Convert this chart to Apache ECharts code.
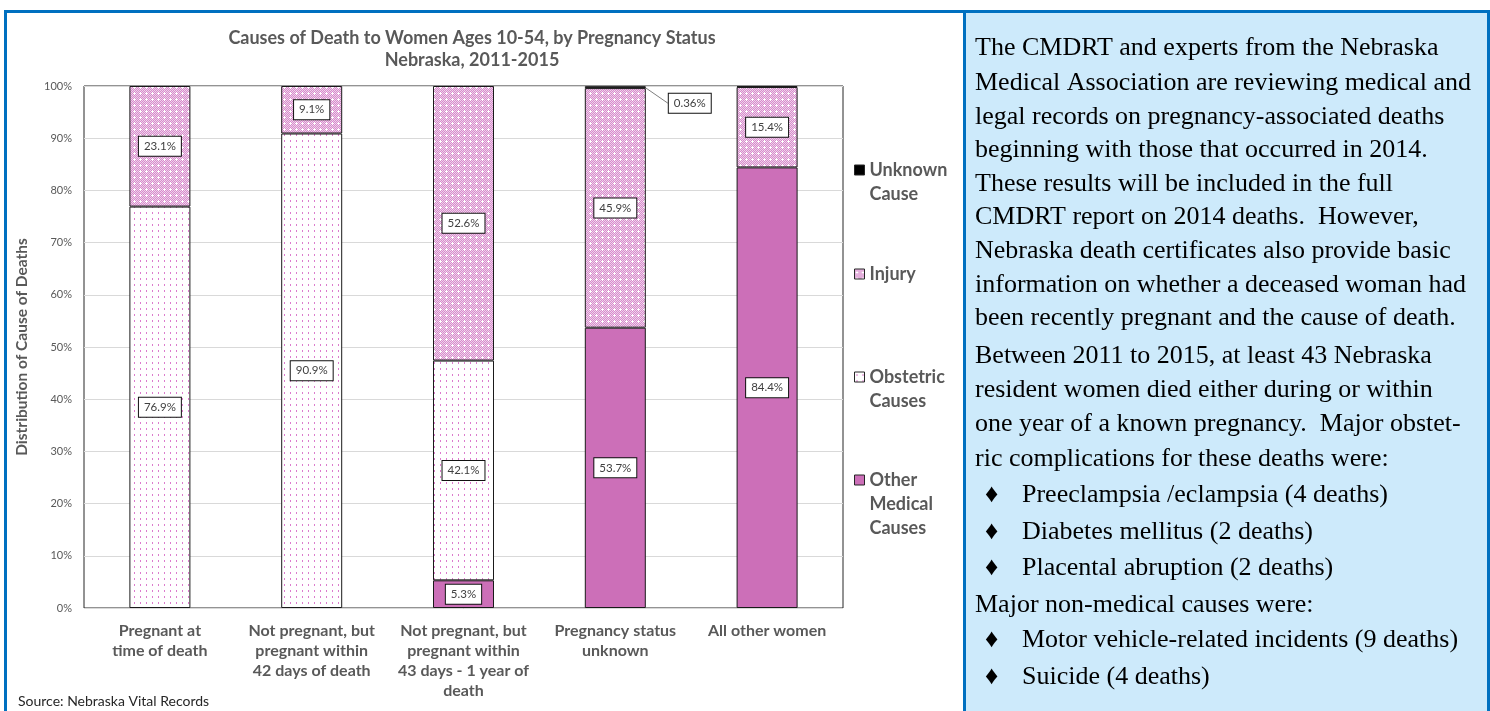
<!DOCTYPE html>
<html>
<head>
<meta charset="utf-8">
<script src="https://cdn.jsdelivr.net/npm/echarts@6/dist/echarts.min.js"></script>
<style>
  html, body { margin: 0; padding: 0; background: #fff; }
  #chart { width: 1490px; height: 711px; }
</style>
</head>
<body>
<div id="chart"></div>
<script>
// chart data
const categories = [
  'Pregnant at\ntime of death',
  'Not pregnant, but\npregnant within\n42 days of death',
  'Not pregnant, but\npregnant within\n43 days - 1 year of\ndeath',
  'Pregnancy status\nunknown',
  'All other women'
]
const otherMedical = [0, 0, 5.3, 53.7, 84.4]
const obstetric = [76.9, 90.9, 42.1, 0, 0]
const injury = [23.1, 9.1, 52.6, 45.9, 15.4]
const unknownCause = [0, 0, 0, 0.36, 0.2]
const unknownLabelIndex = 3
const yTicks = [0, 100, 10]
const legendLabels = {
  'Unknown Cause': ['Unknown', 'Cause'],
  'Injury': ['Injury'],
  'Obstetric Causes': ['Obstetric', 'Causes'],
  'Other Medical Causes': ['Other', 'Medical', 'Causes']
}

const noteLines = [
  'The CMDRT and experts from the Nebraska',
  'Medical Association are reviewing medical and',
  'legal records on pregnancy-associated deaths',
  'beginning with those that occurred in 2014.',
  'These results will be included in the full',
  'CMDRT report on 2014 deaths.  However,',
  'Nebraska death certificates also provide basic',
  'information on whether a deceased woman had',
  'been recently pregnant and the cause of death.',
  'Between 2011 to 2015, at least 43 Nebraska',
  'resident women died either during or within',
  'one year of a known pregnancy.  Major obstet-',
  'ric complications for these deaths were:'
]
const obstetricList = [
  'Preeclampsia /eclampsia (4 deaths)',
  'Diabetes mellitus (2 deaths)',
  'Placental abruption (2 deaths)'
]
const nonMedicalHead = 'Major non-medical causes were:'
const nonMedicalList = [
  'Motor vehicle-related incidents (9 deaths)',
  'Suicide (4 deaths)'
]

const FONT = 'Lato, "Open Sans", sans-serif'
const SERIF = '"Liberation Serif", serif'
const GREY = '#595959'
const PINK = '#cc6fb8'
const LEGEND_LINE = 24

function makePattern (size, draw) {
  const c = document.createElement('canvas')
  c.width = size
  c.height = size
  draw(c.getContext('2d'))
  return { image: c, repeat: 'repeat' }
}

// white with small pink dots
const dotFill = makePattern(6, ctx => {
  ctx.fillStyle = '#fff'
  ctx.fillRect(0, 0, 6, 6)
  ctx.fillStyle = '#dc7ccd'
  ctx.fillRect(2, 2, 1, 2)
})

// pink checker with white plus signs
const plusFill = makePattern(6, ctx => {
  ctx.fillStyle = '#d88ccc'
  ctx.fillRect(0, 0, 6, 6)
  ctx.fillStyle = 'rgba(255,255,255,0.6)'
  for (let x = 0; x < 6; x++) {
    for (let y = 0; y < 6; y++) {
      if ((x + y) % 2 === 0) ctx.fillRect(x, y, 1, 1)
    }
  }
  ctx.fillStyle = '#fff'
  ctx.fillRect(1, 3, 3, 1)
  ctx.fillRect(2, 2, 1, 3)
})

const boxLabel = {
  show: true,
  position: 'inside',
  formatter: p => p.value + '%',
  backgroundColor: '#fff',
  borderColor: '#111',
  borderWidth: 1,
  padding: [4, 5, 3, 5],
  color: '#404040',
  fontFamily: FONT,
  fontSize: 11.5
}

// zero segments are left out so they draw no border or label
const toData = values => values.map(v => v === 0 ? null : v)

function barSeries (name, data, color, extra) {
  return Object.assign({
    name,
    type: 'bar',
    stack: 'all',
    barWidth: 61,
    data,
    itemStyle: { color, borderColor: '#1a1a1a', borderWidth: 1 },
    label: boxLabel,
    emphasis: { disabled: true }
  }, extra || {})
}

// the legend icon sits at the middle of its text, so blank lines are
// added above to keep the square next to the first line
const padLegend = name => {
  const lines = legendLabels[name]
  return new Array(lines.length - 1).fill('').concat(lines).join('\n')
}

const legendBase = {
  orient: 'vertical',
  left: 854,
  padding: 0,
  icon: 'rect',
  itemWidth: 10,
  itemHeight: 10,
  selectedMode: false,
  formatter: padLegend,
  textStyle: { fontFamily: FONT, fontSize: 18, fontWeight: 'bold', color: GREY, lineHeight: LEGEND_LINE }
}
function legendFor (name, iconY) {
  const n = legendLabels[name].length * 2 - 1
  return Object.assign({}, legendBase, {
    top: iconY - n * LEGEND_LINE / 2,
    data: [{ name, itemStyle: { borderColor: '#262626', borderWidth: 1 } }]
  })
}

const graphics = [
  { type: 'rect', shape: { x: 4, y: 10, width: 1486, height: 3 }, style: { fill: '#0070c0' }, z: 10 },
  { type: 'rect', shape: { x: 4, y: 10, width: 3, height: 701 }, style: { fill: '#0070c0' }, z: 10 },
  { type: 'rect', shape: { x: 963, y: 10, width: 527, height: 701 }, style: { fill: '#cdeafb' }, z: 1 },
  { type: 'rect', shape: { x: 963, y: 10, width: 3, height: 701 }, style: { fill: '#0070c0' }, z: 10 },
  { type: 'rect', shape: { x: 1487, y: 10, width: 3, height: 701 }, style: { fill: '#0070c0' }, z: 10 },
  {
    type: 'text', x: 18, y: 701, z: 10,
    style: { text: 'Source: Nebraska Vital Records', font: '14px ' + FONT, fill: '#262626', verticalAlign: 'middle' }
  }
]

const noteStyle = (text, x, y) => ({
  type: 'text', x, y, z: 10,
  style: { text, font: '26px ' + SERIF, fill: '#000', verticalAlign: 'middle' }
})
const noteY = [48, 83, 117, 150, 184, 217, 251, 285, 318, 356, 390, 424, 459]
noteLines.forEach((t, i) => graphics.push(noteStyle(t, 975, noteY[i])))
const bulletY1 = [495, 532, 568]
obstetricList.forEach((t, i) => {
  graphics.push(noteStyle('\u2666', 985, bulletY1[i]))
  graphics.push(noteStyle(t, 1022, bulletY1[i]))
})
graphics.push(noteStyle(nonMedicalHead, 975, 605))
const bulletY2 = [640, 677]
nonMedicalList.forEach((t, i) => {
  graphics.push(noteStyle('\u2666', 985, bulletY2[i]))
  graphics.push(noteStyle(t, 1022, bulletY2[i]))
})

const chart = echarts.init(document.getElementById('chart'), null, { renderer: 'canvas' })

chart.setOption({
  animation: false,
  backgroundColor: '#fff',
  title: {
    text: 'Causes of Death to Women Ages 10-54, by Pregnancy Status\nNebraska, 2011-2015',
    left: 472,
    top: 27,
    padding: 0,
    textAlign: 'center',
    textStyle: { fontFamily: FONT, fontSize: 18, fontWeight: 'bold', color: GREY, lineHeight: 22 }
  },
  legend: [
    legendFor('Unknown Cause', 170),
    legendFor('Injury', 274),
    legendFor('Obstetric Causes', 377),
    legendFor('Other Medical Causes', 480)
  ],
  grid: {
    left: 84, right: 647, top: 86, bottom: 103,
    show: true, borderColor: '#262626', borderWidth: 1, backgroundColor: 'transparent'
  },
  xAxis: {
    type: 'category',
    data: categories,
    axisLine: { show: false },
    axisTick: { show: false },
    axisLabel: {
      margin: 13, interval: 0,
      fontFamily: FONT, fontSize: 16, fontWeight: 'bold', color: GREY, lineHeight: 20,
      verticalAlign: 'top'
    }
  },
  yAxis: {
    type: 'value',
    min: yTicks[0], max: yTicks[1], interval: yTicks[2],
    name: 'Distribution of Cause of Deaths',
    nameLocation: 'middle',
    nameGap: 54,
    nameTextStyle: { fontFamily: FONT, fontSize: 15.5, fontWeight: 'bold', color: GREY },
    axisLine: { show: false },
    axisTick: { show: false },
    axisLabel: { formatter: '{value}%', fontFamily: FONT, fontSize: 11, color: GREY, margin: 12 },
    splitLine: { lineStyle: { color: '#d9d9d9', width: 1 } }
  },
  series: [
    barSeries('Other Medical Causes', toData(otherMedical), PINK),
    barSeries('Obstetric Causes', toData(obstetric), dotFill),
    barSeries('Injury', toData(injury), plusFill),
    barSeries('Unknown Cause', unknownCause.map((v, i) => {
      if (v === 0) return null
      return i === unknownLabelIndex
        ? { value: v, label: { show: true, position: 'right', distance: 5 }, labelLine: { show: true } }
        : { value: v, label: { show: false } }
    }), '#000', {
      label: Object.assign({}, boxLabel, { show: false }),
      labelLayout: { dx: 18, dy: 16 },
      labelLine: { show: true, lineStyle: { color: '#7f7f7f', width: 1 } }
    })
  ],
  graphic: { elements: graphics }
})
</script>
</body>
</html>
